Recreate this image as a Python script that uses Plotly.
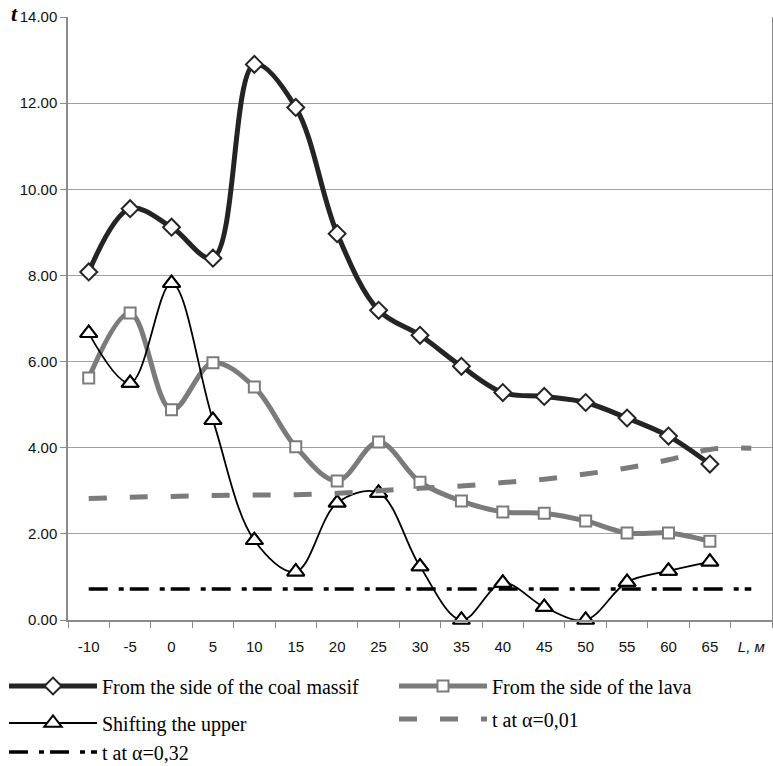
import plotly.graph_objects as go

# Distance along the working, m
distance = [-10, -5, 0, 5, 10, 15, 20, 25, 30, 35, 40, 45, 50, 55, 60, 65]
# Critical-value lines run one step further, to the axis-title slot
distance_ext = distance + [70]

coal_massif = [8.08, 9.55, 9.12, 8.40, 12.90, 11.90, 8.97, 7.19, 6.61, 5.89,
               5.28, 5.19, 5.05, 4.69, 4.27, 3.62]
lava_side = [5.62, 7.13, 4.88, 5.97, 5.41, 4.02, 3.23, 4.13, 3.20, 2.76,
             2.51, 2.48, 2.30, 2.02, 2.02, 1.83]
shifting_upper = [6.66, 5.50, 7.82, 4.64, 1.85, 1.12, 2.72, 2.95, 1.24, 0.00,
                  0.86, 0.30, 0.00, 0.88, 1.14, 1.35]
t_alpha_001 = [2.82, 2.85, 2.87, 2.89, 2.90, 2.91, 2.94, 3.00, 3.06, 3.11,
               3.19, 3.27, 3.39, 3.53, 3.72, 3.96, 3.99]
t_alpha_032 = [0.72] * 17

x_tick_labels = [str(d) for d in distance] + ["<i>L, м</i>"]
y_ticks = [0, 2, 4, 6, 8, 10, 12, 14]

DARK = "#242424"
GREY = "#7b7b7b"
W, H = 773, 766
ML, MR, MT, MB = 68, 1, 17, 146
PW = W - ML - MR
PH = H - MT - MB

fig = go.Figure()

fig.add_trace(go.Scatter(
    x=distance, y=coal_massif, name="From the side of the coal massif",
    mode="lines+markers", line=dict(color=DARK, width=5, shape="spline", smoothing=1),
    marker=dict(symbol="diamond", size=13, color="white", line=dict(color=DARK, width=2)),
    legend="legend"))
fig.add_trace(go.Scatter(
    x=distance, y=lava_side, name="From the side of the lava",
    mode="lines+markers", line=dict(color=GREY, width=5, shape="spline", smoothing=1),
    marker=dict(symbol="square", size=11, color="white", line=dict(color=GREY, width=2)),
    legend="legend2"))
fig.add_trace(go.Scatter(
    x=distance, y=shifting_upper, name="Shifting the upper",
    mode="lines+markers", line=dict(color="black", width=1.8, shape="spline", smoothing=1),
    marker=dict(symbol="triangle-up", size=15, color="white", line=dict(color="black", width=2)),
    legend="legend3"))
# Markers of the same series drawn unclipped so the zero-level points show whole
fig.add_trace(go.Scatter(
    x=distance, y=shifting_upper, mode="markers", showlegend=False, cliponaxis=False,
    marker=dict(symbol="triangle-up", size=15, color="white", line=dict(color="black", width=2)),
    hoverinfo="skip"))
fig.add_trace(go.Scatter(
    x=distance_ext, y=t_alpha_001, name="t at α=0,01",
    mode="lines", line=dict(color=GREY, width=5, dash="18px,23px", shape="spline", smoothing=1),
    legend="legend4"))
fig.add_trace(go.Scatter(
    x=distance_ext, y=t_alpha_032, name="t at α=0,32",
    mode="lines", line=dict(color="black", width=3.5, dash="19px,11px,5px,6px"),
    legend="legend5"))


legend_font = dict(family="Liberation Serif, Times New Roman, serif", size=20, color="black")


def legend_box(x_px, y_px):
    return dict(xref="container", yref="container",
                x=x_px / W, y=1 - y_px / H, xanchor="left", yanchor="middle",
                orientation="h", font=legend_font, itemwidth=88,
                bgcolor="rgba(0,0,0,0)", borderwidth=0)


tick_font = dict(family="Liberation Sans, Arial, sans-serif", size=15, color="#111")

fig.update_layout(
    width=W, height=H,
    margin=dict(l=ML, r=MR, t=MT, b=MB, autoexpand=False),
    plot_bgcolor="white", paper_bgcolor="white",
    showlegend=True,
    legend=legend_box(4, 686),
    legend2=legend_box(394, 686),
    legend3=legend_box(4, 723),
    legend4=legend_box(394, 719),
    legend5=legend_box(4, 752),
    xaxis=dict(
        range=[-12.5, 72.5], tickmode="array", tickvals=distance_ext, ticktext=x_tick_labels,
        ticks="", showgrid=False, zeroline=False,
        showline=True, linecolor="#8a8a8a", linewidth=1.5,
        minor=dict(tickmode="array", tickvals=[-12.5 + 5 * k for k in range(18)],
                   ticks="outside", ticklen=6, tickcolor="#8a8a8a", showgrid=False),
        tickfont=tick_font,
        ticklabelstandoff=12,
    ),
    yaxis=dict(
        range=[0, 14], tickmode="array", tickvals=y_ticks,
        ticktext=[f"{v:.2f}" for v in y_ticks],
        ticks="outside", ticklen=6, tickcolor="#8a8a8a",
        showgrid=True, gridcolor="#a0a0a0", gridwidth=1,
        zeroline=False, showline=True, linecolor="#8a8a8a", linewidth=1.5, mirror=True,
        tickfont=tick_font,
    ),
)

# Axis symbol for the y values
fig.add_annotation(
    text="<b><i>t</i></b>", xref="paper", yref="paper",
    x=(14 - ML) / PW, y=(H - MB - 13) / PH, xanchor="center", yanchor="middle",
    showarrow=False,
    font=dict(family="Liberation Serif, Times New Roman, serif", size=22, color="black"))

fig.write_html("out.html")
